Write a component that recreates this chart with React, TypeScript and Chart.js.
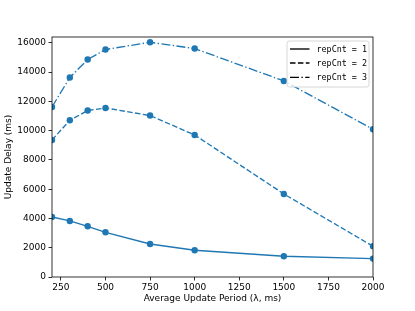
import React, { useEffect, useRef } from "react";
import { Chart, registerables } from "chart.js";

Chart.register(...registerables);

const periods = [200, 300, 400, 500, 750, 1000, 1500, 2000];
const rep1 = [4100, 3830, 3465, 3055, 2255, 1825, 1415, 1257];
const rep2 = [9364, 10710, 11374, 11551, 11032, 9706, 5673, 2098];
const rep3 = [11620, 13630, 14860, 15543, 16042, 15610, 13397, 10096];
const seriesLabels = ["repCnt = 1", "repCnt = 2", "repCnt = 3"];
const xTicks = [250, 500, 750, 1000, 1250, 1500, 1750, 2000];
const yTicks = [0, 2000, 4000, 6000, 8000, 10000, 12000, 14000, 16000];
const xTitle = "Average Update Period (\u03bb, ms)";
const yTitle = "Update Delay (ms)";

const COLOR = "#1f77b4";
const DASHES: number[][] = [[], [5.5, 2.4], [9, 2.4, 1.4, 2.4]];
const FONT = "'DejaVu Sans', sans-serif";

const framePlugin = {
  id: "frame",
  afterDatasetsDraw(chart: any) {
    const { ctx, chartArea: a } = chart;
    ctx.save();
    ctx.strokeStyle = "#000";
    ctx.lineWidth = 0.8;
    ctx.strokeRect(a.left, a.top, a.right - a.left, a.bottom - a.top);

    // legend
    const bx = 287, by = 41, bw = 82, bh = 46, r = 2.5;
    ctx.beginPath();
    ctx.moveTo(bx + r, by);
    ctx.lineTo(bx + bw - r, by);
    ctx.arcTo(bx + bw, by, bx + bw, by + r, r);
    ctx.lineTo(bx + bw, by + bh - r);
    ctx.arcTo(bx + bw, by + bh, bx + bw - r, by + bh, r);
    ctx.lineTo(bx + r, by + bh);
    ctx.arcTo(bx, by + bh, bx, by + bh - r, r);
    ctx.lineTo(bx, by + r);
    ctx.arcTo(bx, by, bx + r, by, r);
    ctx.closePath();
    ctx.fillStyle = "rgba(255,255,255,0.8)";
    ctx.fill();
    ctx.strokeStyle = "#cccccc";
    ctx.lineWidth = 0.8;
    ctx.stroke();

    const rows = [49, 63, 77.3];
    ctx.font = "8.4px 'DejaVu Sans Mono', monospace";
    ctx.textBaseline = "middle";
    ctx.textAlign = "left";
    seriesLabels.forEach((lab, i) => {
      ctx.beginPath();
      ctx.setLineDash(DASHES[i]);
      ctx.strokeStyle = "#000";
      ctx.lineWidth = 1.35;
      ctx.moveTo(290, rows[i]);
      ctx.lineTo(309.5, rows[i]);
      ctx.stroke();
      ctx.setLineDash([]);
      ctx.fillStyle = "#000";
      ctx.fillText(lab, 316.5, rows[i] + 0.5);
    });
    ctx.restore();
  },
};

export default function App() {
  const ref = useRef<HTMLCanvasElement | null>(null);
  useEffect(() => {
    if (!ref.current) return;
    const series = [rep1, rep2, rep3];
    const chart = new Chart(ref.current, {
      type: "line",
      data: {
        datasets: series.map((s, i) => ({
          label: seriesLabels[i],
          data: periods.map((x, j) => ({ x, y: s[j] })),
          borderColor: COLOR,
          backgroundColor: COLOR,
          borderWidth: 1.35,
          borderDash: DASHES[i],
          pointRadius: 3.2,
          pointBorderWidth: 0,
          pointBackgroundColor: COLOR,
          tension: 0,
          fill: false,
        })),
      },
      options: {
        animation: false,
        responsive: false,
        devicePixelRatio: 1,
        layout: { padding: { left: 0, top: 37, right: 42, bottom: 0 } },
        plugins: {
          legend: { display: false },
          tooltip: { enabled: false },
        },
        scales: {
          x: {
            type: "linear",
            min: 200,
            max: 2000,
            afterBuildTicks: (s: any) => {
              s.ticks = xTicks.map((v) => ({ value: v }));
            },
            afterFit: (s: any) => {
              s.height = 34;
            },
            grid: {
              display: true,
              drawOnChartArea: false,
              drawTicks: true,
              tickLength: 3.5,
              tickWidth: 0.8,
              tickColor: "#000",
            },
            border: { display: false },
            ticks: {
              color: "#000",
              font: { family: FONT, size: 9 },
              padding: 1.5,
              maxRotation: 0,
              autoSkip: false,
              callback: (v: any) => String(v),
            },
            title: {
              display: true,
              text: xTitle,
              color: "#000",
              font: { family: FONT, size: 9 },
              padding: { top: 0, bottom: 6.5 },
            },
          },
          y: {
            type: "linear",
            min: 0,
            max: 16400,
            afterBuildTicks: (s: any) => {
              s.ticks = yTicks.map((v) => ({ value: v }));
            },
            afterFit: (s: any) => {
              s.width = 52;
            },
            grid: {
              display: true,
              drawOnChartArea: false,
              drawTicks: true,
              tickLength: 3.5,
              tickWidth: 0.8,
              tickColor: "#000",
            },
            border: { display: false },
            ticks: {
              color: "#000",
              font: { family: FONT, size: 9 },
              padding: 2.5,
              autoSkip: false,
              callback: (v: any) => String(v),
            },
            title: {
              display: true,
              text: yTitle,
              color: "#000",
              font: { family: FONT, size: 9 },
              padding: { top: 3.4, bottom: 0 },
            },
          },
        },
      },
      plugins: [framePlugin],
    } as any);
    return () => chart.destroy();
  }, []);
  return (
    <div style={{ position: "absolute", left: 0, top: 0, width: 415, height: 311, background: "#fff" }}>
      <canvas ref={ref} width={415} height={311} style={{ display: "block" }} />
    </div>
  );
}
